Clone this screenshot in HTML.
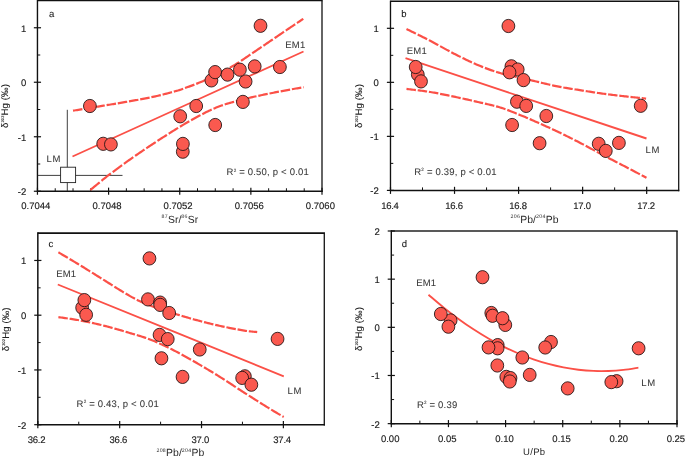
<!DOCTYPE html>
<html><head><meta charset="utf-8"><title>chart</title>
<style>
html,body{margin:0;padding:0;background:#fff;overflow:hidden}
svg{display:block;font-family:"Liberation Sans",sans-serif;text-rendering:geometricPrecision}
</style></head><body>
<svg width="685" height="456" viewBox="0 0 685 456">
<rect width="685" height="456" fill="#fff"/>
<defs><mask id="m" maskUnits="userSpaceOnUse" x="0" y="0" width="685" height="456"><rect width="685" height="456" fill="#fff"/></mask></defs>
<g mask="url(#m)">
<line x1="37.45" y1="0.5" x2="322.65" y2="0.5" stroke="#111" stroke-width="1.3"/>
<line x1="322.0" y1="0.5" x2="322.0" y2="191.975" stroke="#111" stroke-width="1.3"/>
<line x1="37.45" y1="-0.15000000000000002" x2="37.45" y2="191.975" stroke="#111" stroke-width="1.4"/>
<line x1="37.45" y1="191.25" x2="322.65" y2="191.25" stroke="#111" stroke-width="1.45"/>
<line x1="37.45" y1="187.65" x2="37.45" y2="194.75" stroke="#111" stroke-width="1.2"/>
<line x1="108.59" y1="187.65" x2="108.59" y2="194.75" stroke="#111" stroke-width="1.2"/>
<line x1="179.73" y1="187.65" x2="179.73" y2="194.75" stroke="#111" stroke-width="1.2"/>
<line x1="250.86" y1="187.65" x2="250.86" y2="194.75" stroke="#111" stroke-width="1.2"/>
<line x1="322.00" y1="187.65" x2="322.00" y2="194.75" stroke="#111" stroke-width="1.2"/>
<line x1="55.23" y1="188.25" x2="55.23" y2="191.25" stroke="#111" stroke-width="1"/>
<line x1="73.02" y1="188.25" x2="73.02" y2="191.25" stroke="#111" stroke-width="1"/>
<line x1="90.80" y1="188.25" x2="90.80" y2="191.25" stroke="#111" stroke-width="1"/>
<line x1="126.37" y1="188.25" x2="126.37" y2="191.25" stroke="#111" stroke-width="1"/>
<line x1="144.16" y1="188.25" x2="144.16" y2="191.25" stroke="#111" stroke-width="1"/>
<line x1="161.94" y1="188.25" x2="161.94" y2="191.25" stroke="#111" stroke-width="1"/>
<line x1="197.51" y1="188.25" x2="197.51" y2="191.25" stroke="#111" stroke-width="1"/>
<line x1="215.29" y1="188.25" x2="215.29" y2="191.25" stroke="#111" stroke-width="1"/>
<line x1="233.08" y1="188.25" x2="233.08" y2="191.25" stroke="#111" stroke-width="1"/>
<line x1="268.65" y1="188.25" x2="268.65" y2="191.25" stroke="#111" stroke-width="1"/>
<line x1="286.43" y1="188.25" x2="286.43" y2="191.25" stroke="#111" stroke-width="1"/>
<line x1="304.22" y1="188.25" x2="304.22" y2="191.25" stroke="#111" stroke-width="1"/>
<line x1="33.85" y1="27.75" x2="41.050000000000004" y2="27.75" stroke="#111" stroke-width="1.2"/>
<line x1="33.85" y1="82.25" x2="41.050000000000004" y2="82.25" stroke="#111" stroke-width="1.2"/>
<line x1="33.85" y1="136.75" x2="41.050000000000004" y2="136.75" stroke="#111" stroke-width="1.2"/>
<line x1="33.85" y1="191.25" x2="41.050000000000004" y2="191.25" stroke="#111" stroke-width="1.2"/>
<line x1="37.45" y1="55.00" x2="40.25" y2="55.00" stroke="#111" stroke-width="1"/>
<line x1="37.45" y1="109.50" x2="40.25" y2="109.50" stroke="#111" stroke-width="1"/>
<line x1="37.45" y1="164.00" x2="40.25" y2="164.00" stroke="#111" stroke-width="1"/>
<text x="35.85" y="209.10" font-size="9.5" letter-spacing="0" text-anchor="middle" fill="#1c1c1c" stroke="#1c1c1c" stroke-width="0.15" >0.7044</text>
<text x="106.99" y="209.10" font-size="9.5" letter-spacing="0" text-anchor="middle" fill="#1c1c1c" stroke="#1c1c1c" stroke-width="0.15" >0.7048</text>
<text x="178.13" y="209.10" font-size="9.5" letter-spacing="0" text-anchor="middle" fill="#1c1c1c" stroke="#1c1c1c" stroke-width="0.15" >0.7052</text>
<text x="249.26" y="209.10" font-size="9.5" letter-spacing="0" text-anchor="middle" fill="#1c1c1c" stroke="#1c1c1c" stroke-width="0.15" >0.7056</text>
<text x="320.40" y="209.10" font-size="9.5" letter-spacing="0" text-anchor="middle" fill="#1c1c1c" stroke="#1c1c1c" stroke-width="0.15" >0.7060</text>
<text x="26.20" y="31.75" font-size="9.5" letter-spacing="0" text-anchor="end" fill="#1c1c1c" stroke="#1c1c1c" stroke-width="0.15" >1</text>
<text x="26.20" y="86.25" font-size="9.5" letter-spacing="0" text-anchor="end" fill="#1c1c1c" stroke="#1c1c1c" stroke-width="0.15" >0</text>
<text x="26.20" y="140.75" font-size="9.5" letter-spacing="0" text-anchor="end" fill="#1c1c1c" stroke="#1c1c1c" stroke-width="0.15" >-1</text>
<text x="26.20" y="195.25" font-size="9.5" letter-spacing="0" text-anchor="end" fill="#1c1c1c" stroke="#1c1c1c" stroke-width="0.15" >-2</text>
<text transform="translate(8.4,106) rotate(-90)" font-size="9.5" text-anchor="middle" fill="#222" stroke="#222" stroke-width="0.1"><tspan letter-spacing="0.15">δ</tspan><tspan font-size="3.9" letter-spacing="0.15" dy="-4.2">202</tspan><tspan dy="4.2" letter-spacing="0.15">Hg (‰)</tspan></text>
<line x1="67.3" y1="109.8" x2="67.3" y2="191" stroke="#2a2a2a" stroke-width="0.9"/>
<line x1="37.8" y1="175.4" x2="122.5" y2="175.4" stroke="#2a2a2a" stroke-width="0.9"/>
<rect x="60.6" y="167.2" width="15.0" height="15.4" fill="#fff" stroke="#222" stroke-width="0.9"/>
<path d="M72.50,156.50 C111.00,139.00 265.00,69.00 303.50,51.50" fill="none" stroke="#fb5047" stroke-width="1.85"/>
<path d="M73.00,110.70 L74.34,110.48 L75.69,110.26 L77.03,110.04 L78.37,109.82 L79.71,109.60 L81.06,109.38 L82.40,109.16 M84.20,108.86 L85.54,108.64 L86.89,108.42 L88.23,108.20 L89.57,107.98 L90.91,107.76 L92.26,107.53 L93.60,107.31 M95.40,107.02 L96.74,106.79 L98.09,106.57 L99.43,106.35 L100.77,106.13 L102.11,105.91 L103.46,105.69 L104.80,105.47 M106.60,105.18 L107.94,104.96 L109.29,104.74 L110.63,104.52 L111.97,104.29 L113.31,104.07 L114.66,103.85 L116.00,103.63 M117.80,103.33 L119.14,103.10 L120.49,102.87 L121.83,102.65 L123.17,102.41 L124.51,102.18 L125.86,101.95 L127.20,101.71 M129.00,101.39 L130.34,101.16 L131.69,100.92 L133.03,100.68 L134.37,100.44 L135.71,100.20 L137.06,99.96 L138.40,99.71 M140.20,99.38 L141.54,99.13 L142.89,98.88 L144.23,98.63 L145.57,98.37 L146.91,98.11 L148.26,97.84 L149.60,97.57 M151.40,97.20 L152.74,96.92 L154.09,96.63 L155.43,96.33 L156.77,96.02 L158.11,95.71 L159.46,95.39 L160.80,95.06 M162.60,94.61 L163.94,94.27 L165.29,93.93 L166.63,93.58 L167.97,93.22 L169.31,92.87 L170.66,92.51 L172.00,92.14 M173.80,91.65 L175.14,91.29 L176.49,90.93 L177.83,90.56 L179.17,90.14 L180.51,89.68 L181.86,89.20 L183.20,88.71 M185.00,88.05 L186.34,87.57 L187.69,87.08 L189.03,86.60 L190.37,86.11 L191.71,85.61 L193.06,85.11 L194.40,84.60 M196.20,83.90 L197.54,83.38 L198.89,82.84 L200.23,82.28 L201.57,81.72 L202.91,81.14 L204.26,80.55 L205.60,79.95 M207.40,79.13 L208.74,78.51 L210.09,77.88 L211.43,77.25 L212.77,76.62 L214.11,75.97 L215.46,75.32 L216.80,74.67 M218.60,73.78 L219.94,73.10 L221.29,72.42 L222.63,71.72 L223.97,71.02 L225.31,70.31 L226.66,69.59 L228.00,68.85 M229.80,67.84 L231.14,67.07 L232.49,66.28 L233.83,65.47 L235.17,64.64 L236.51,63.80 L237.86,62.93 L239.20,62.06 M241.00,60.87 L242.34,59.97 L243.69,59.06 L245.03,58.15 L246.37,57.24 L247.71,56.32 L249.06,55.40 L250.40,54.49 M252.20,53.27 L253.54,52.37 L254.89,51.48 L256.23,50.58 L257.57,49.68 L258.91,48.77 L260.26,47.87 L261.60,46.96 M263.40,45.74 L264.74,44.83 L266.09,43.91 L267.43,43.00 L268.77,42.09 L270.11,41.17 L271.46,40.26 L272.80,39.35 M274.60,38.13 L275.94,37.22 L277.29,36.31 L278.63,35.40 L279.97,34.50 L281.31,33.59 L282.66,32.69 L284.00,31.78 M285.80,30.57 L287.14,29.67 L288.49,28.77 L289.83,27.86 L291.17,26.96 L292.51,26.05 L293.86,25.15 L295.20,24.25 M297.00,23.04 L297.90,22.43 L298.80,21.83 L299.70,21.22 L300.60,20.62 L301.50,20.01 L302.40,19.41 L303.30,18.80" fill="none" stroke="#fb5047" stroke-width="2.2"/>
<path d="M90.30,190.00 L91.64,188.91 L92.99,187.80 L94.33,186.69 L95.67,185.59 L97.01,184.48 L98.36,183.38 L99.70,182.28 M101.50,180.81 L102.84,179.73 L104.19,178.65 L105.53,177.57 L106.87,176.51 L108.21,175.46 L109.56,174.42 L110.90,173.38 M112.70,172.03 L114.04,171.02 L115.39,170.03 L116.73,169.03 L118.07,168.05 L119.41,167.07 L120.76,166.10 L122.10,165.13 M123.90,163.83 L125.24,162.87 L126.59,161.92 L127.93,160.97 L129.27,160.02 L130.61,159.08 L131.96,158.14 L133.30,157.20 M135.10,155.95 L136.44,155.02 L137.79,154.10 L139.13,153.18 L140.47,152.26 L141.81,151.35 L143.16,150.44 L144.50,149.53 M146.30,148.32 L147.64,147.42 L148.99,146.53 L150.33,145.63 L151.67,144.74 L153.01,143.86 L154.36,142.97 L155.70,142.09 M157.50,140.91 L158.84,140.04 L160.19,139.16 L161.53,138.29 L162.87,137.43 L164.21,136.56 L165.56,135.70 L166.90,134.85 M168.70,133.70 L170.04,132.85 L171.39,132.01 L172.73,131.17 L174.07,130.33 L175.41,129.50 L176.76,128.68 L178.10,127.85 M179.90,126.76 L181.24,125.95 L182.59,125.15 L183.93,124.35 L185.27,123.56 L186.61,122.77 L187.96,122.00 L189.30,121.23 M191.10,120.21 L192.44,119.46 L193.79,118.71 L195.13,117.98 L196.47,117.25 L197.81,116.53 L199.16,115.82 L200.50,115.11 M202.30,114.16 L203.64,113.46 L204.99,112.78 L206.33,112.10 L207.67,111.44 L209.01,110.79 L210.36,110.15 L211.70,109.53 M213.50,108.73 L214.84,108.16 L216.19,107.60 L217.53,107.06 L218.87,106.54 L220.21,106.03 L221.56,105.55 L222.90,105.09 M224.70,104.49 L226.04,104.07 L227.39,103.65 L228.73,103.25 L230.07,102.85 L231.41,102.47 L232.76,102.09 L234.10,101.72 M235.90,101.24 L237.24,100.88 L238.59,100.52 L239.93,100.17 L241.27,99.82 L242.61,99.47 L243.96,99.12 L245.30,98.78 M247.10,98.35 L248.44,98.03 L249.79,97.71 L251.13,97.40 L252.47,97.10 L253.81,96.80 L255.16,96.51 L256.50,96.22 M258.30,95.83 L259.64,95.55 L260.99,95.26 L262.33,94.98 L263.67,94.70 L265.01,94.42 L266.36,94.14 L267.70,93.87 M269.50,93.50 L270.84,93.24 L272.19,92.97 L273.53,92.71 L274.87,92.45 L276.21,92.19 L277.56,91.94 L278.90,91.68 M280.70,91.35 L282.04,91.09 L283.39,90.84 L284.73,90.59 L286.07,90.35 L287.41,90.10 L288.76,89.85 L290.10,89.60 M291.90,89.27 L293.24,89.02 L294.59,88.78 L295.93,88.54 L297.27,88.31 L298.61,88.07 L299.96,87.84 L301.30,87.60 M303.10,87.29 L303.17,87.28 L303.24,87.26 L303.31,87.25 L303.39,87.24 L303.46,87.23 L303.53,87.21 L303.60,87.20" fill="none" stroke="#fb5047" stroke-width="2.2"/>
<ellipse cx="89.90" cy="106.00" rx="6.4" ry="6.62" fill="#fa594f" stroke="#1c1010" stroke-width="0.85"/>
<ellipse cx="103.20" cy="143.80" rx="6.4" ry="6.62" fill="#fa594f" stroke="#1c1010" stroke-width="0.85"/>
<ellipse cx="110.90" cy="144.40" rx="6.4" ry="6.62" fill="#fa594f" stroke="#1c1010" stroke-width="0.85"/>
<ellipse cx="180.20" cy="116.30" rx="6.4" ry="6.62" fill="#fa594f" stroke="#1c1010" stroke-width="0.85"/>
<ellipse cx="182.80" cy="151.70" rx="6.4" ry="6.62" fill="#fa594f" stroke="#1c1010" stroke-width="0.85"/>
<ellipse cx="182.90" cy="143.90" rx="6.4" ry="6.62" fill="#fa594f" stroke="#1c1010" stroke-width="0.85"/>
<ellipse cx="196.20" cy="106.00" rx="6.4" ry="6.62" fill="#fa594f" stroke="#1c1010" stroke-width="0.85"/>
<ellipse cx="211.40" cy="80.40" rx="6.4" ry="6.62" fill="#fa594f" stroke="#1c1010" stroke-width="0.85"/>
<ellipse cx="215.20" cy="125.00" rx="6.4" ry="6.62" fill="#fa594f" stroke="#1c1010" stroke-width="0.85"/>
<ellipse cx="215.10" cy="72.10" rx="6.4" ry="6.62" fill="#fa594f" stroke="#1c1010" stroke-width="0.85"/>
<ellipse cx="227.50" cy="74.60" rx="6.4" ry="6.62" fill="#fa594f" stroke="#1c1010" stroke-width="0.85"/>
<ellipse cx="245.60" cy="81.50" rx="6.4" ry="6.62" fill="#fa594f" stroke="#1c1010" stroke-width="0.85"/>
<ellipse cx="239.90" cy="69.70" rx="6.4" ry="6.62" fill="#fa594f" stroke="#1c1010" stroke-width="0.85"/>
<ellipse cx="242.90" cy="101.90" rx="6.4" ry="6.62" fill="#fa594f" stroke="#1c1010" stroke-width="0.85"/>
<ellipse cx="254.70" cy="66.40" rx="6.4" ry="6.62" fill="#fa594f" stroke="#1c1010" stroke-width="0.85"/>
<ellipse cx="260.50" cy="25.80" rx="6.4" ry="6.62" fill="#fa594f" stroke="#1c1010" stroke-width="0.85"/>
<ellipse cx="279.90" cy="67.00" rx="6.4" ry="6.62" fill="#fa594f" stroke="#1c1010" stroke-width="0.85"/>
<text x="49.00" y="16.60" font-size="9.5" letter-spacing="0.2" text-anchor="start" fill="#151515" stroke="#151515" stroke-width="0.08" >a</text>
<text x="285.30" y="47.50" font-size="9.5" letter-spacing="0.2" text-anchor="start" fill="#3a3a3a" stroke="#3a3a3a" stroke-width="0.08" >EM1</text>
<text x="46.60" y="161.50" font-size="9.5" letter-spacing="0.7" text-anchor="start" fill="#3a3a3a" stroke="#3a3a3a" stroke-width="0.08" >LM</text>
<text x="226.60" y="175.10" font-size="9.5" letter-spacing="0.2" text-anchor="start" fill="#3a3a3a" stroke="#3a3a3a" stroke-width="0.08" >R<tspan font-size="4.5" dy="-3.6">2</tspan><tspan dy="3.6" font-size="4.5">&#8203;</tspan> = 0.50, p &lt; 0.01</text>
<text x="179.9" y="222.8" font-size="10.4" text-anchor="middle" fill="#2a2a2a"><tspan font-size="5.2" letter-spacing="0.35" dy="-4.8">87</tspan><tspan dy="4.8" letter-spacing="0.05">Sr/</tspan><tspan font-size="5.2" letter-spacing="0.35" dy="-4.8">86</tspan><tspan dy="4.8" letter-spacing="0.05">Sr</tspan></text>
<line x1="390.48" y1="1.3" x2="679.325" y2="1.3" stroke="#111" stroke-width="1.4"/>
<line x1="678.7" y1="1.3" x2="678.7" y2="191.125" stroke="#111" stroke-width="1.25"/>
<line x1="390.48" y1="0.6000000000000001" x2="390.48" y2="191.125" stroke="#111" stroke-width="1.35"/>
<line x1="390.48" y1="190.4" x2="679.325" y2="190.4" stroke="#111" stroke-width="1.45"/>
<line x1="390.48" y1="186.8" x2="390.48" y2="193.9" stroke="#111" stroke-width="1.2"/>
<line x1="454.53" y1="186.8" x2="454.53" y2="193.9" stroke="#111" stroke-width="1.2"/>
<line x1="518.58" y1="186.8" x2="518.58" y2="193.9" stroke="#111" stroke-width="1.2"/>
<line x1="582.63" y1="186.8" x2="582.63" y2="193.9" stroke="#111" stroke-width="1.2"/>
<line x1="646.68" y1="186.8" x2="646.68" y2="193.9" stroke="#111" stroke-width="1.2"/>
<line x1="422.50" y1="187.4" x2="422.50" y2="190.4" stroke="#111" stroke-width="1"/>
<line x1="486.55" y1="187.4" x2="486.55" y2="190.4" stroke="#111" stroke-width="1"/>
<line x1="550.60" y1="187.4" x2="550.60" y2="190.4" stroke="#111" stroke-width="1"/>
<line x1="614.65" y1="187.4" x2="614.65" y2="190.4" stroke="#111" stroke-width="1"/>
<line x1="386.88" y1="28.31" x2="394.08000000000004" y2="28.31" stroke="#111" stroke-width="1.2"/>
<line x1="386.88" y1="82.34" x2="394.08000000000004" y2="82.34" stroke="#111" stroke-width="1.2"/>
<line x1="386.88" y1="136.37" x2="394.08000000000004" y2="136.37" stroke="#111" stroke-width="1.2"/>
<line x1="386.88" y1="190.40" x2="394.08000000000004" y2="190.40" stroke="#111" stroke-width="1.2"/>
<line x1="390.48" y1="55.33" x2="393.28000000000003" y2="55.33" stroke="#111" stroke-width="1"/>
<line x1="390.48" y1="109.36" x2="393.28000000000003" y2="109.36" stroke="#111" stroke-width="1"/>
<line x1="390.48" y1="163.38" x2="393.28000000000003" y2="163.38" stroke="#111" stroke-width="1"/>
<text x="389.88" y="209.00" font-size="9.5" letter-spacing="-0.25" text-anchor="middle" fill="#1c1c1c" stroke="#1c1c1c" stroke-width="0.15" >16.4</text>
<text x="453.93" y="209.00" font-size="9.5" letter-spacing="-0.25" text-anchor="middle" fill="#1c1c1c" stroke="#1c1c1c" stroke-width="0.15" >16.6</text>
<text x="517.98" y="209.00" font-size="9.5" letter-spacing="-0.25" text-anchor="middle" fill="#1c1c1c" stroke="#1c1c1c" stroke-width="0.15" >16.8</text>
<text x="582.03" y="209.00" font-size="9.5" letter-spacing="-0.25" text-anchor="middle" fill="#1c1c1c" stroke="#1c1c1c" stroke-width="0.15" >17.0</text>
<text x="646.08" y="209.00" font-size="9.5" letter-spacing="-0.25" text-anchor="middle" fill="#1c1c1c" stroke="#1c1c1c" stroke-width="0.15" >17.2</text>
<text x="378.80" y="32.11" font-size="9.5" letter-spacing="0" text-anchor="end" fill="#1c1c1c" stroke="#1c1c1c" stroke-width="0.15" >1</text>
<text x="378.80" y="86.14" font-size="9.5" letter-spacing="0" text-anchor="end" fill="#1c1c1c" stroke="#1c1c1c" stroke-width="0.15" >0</text>
<text x="378.80" y="140.17" font-size="9.5" letter-spacing="0" text-anchor="end" fill="#1c1c1c" stroke="#1c1c1c" stroke-width="0.15" >-1</text>
<text x="378.80" y="194.20" font-size="9.5" letter-spacing="0" text-anchor="end" fill="#1c1c1c" stroke="#1c1c1c" stroke-width="0.15" >-2</text>
<text transform="translate(362,106) rotate(-90)" font-size="9.5" text-anchor="middle" fill="#222" stroke="#222" stroke-width="0.1"><tspan letter-spacing="0.15">δ</tspan><tspan font-size="3.9" letter-spacing="0.15" dy="-4.2">202</tspan><tspan dy="4.2" letter-spacing="0.15">Hg (‰)</tspan></text>
<path d="M405.50,58.20 C445.67,71.58 606.33,125.12 646.50,138.50" fill="none" stroke="#fb5047" stroke-width="1.85"/>
<path d="M406.50,29.00 L407.84,29.66 L409.19,30.32 L410.53,30.98 L411.87,31.64 L413.21,32.30 L414.56,32.96 L415.90,33.62 M417.70,34.51 L419.04,35.17 L420.39,35.84 L421.73,36.51 L423.07,37.18 L424.41,37.85 L425.76,38.53 L427.10,39.21 M428.90,40.13 L430.24,40.82 L431.59,41.53 L432.93,42.24 L434.27,42.96 L435.61,43.69 L436.96,44.42 L438.30,45.16 M440.10,46.15 L441.44,46.90 L442.79,47.64 L444.13,48.38 L445.47,49.12 L446.81,49.85 L448.16,50.58 L449.50,51.30 M451.30,52.26 L452.64,52.96 L453.99,53.65 L455.33,54.33 L456.67,55.01 L458.01,55.69 L459.36,56.37 L460.70,57.04 M462.50,57.94 L463.84,58.60 L465.19,59.26 L466.53,59.91 L467.87,60.55 L469.21,61.18 L470.56,61.81 L471.90,62.42 M473.70,63.23 L475.04,63.82 L476.39,64.40 L477.73,64.96 L479.07,65.52 L480.41,66.08 L481.76,66.62 L483.10,67.16 M484.90,67.87 L486.24,68.39 L487.59,68.90 L488.93,69.39 L490.27,69.87 L491.61,70.35 L492.96,70.81 L494.30,71.26 M496.10,71.84 L497.44,72.26 L498.79,72.66 L500.13,73.06 L501.47,73.45 L502.81,73.82 L504.16,74.17 L505.50,74.52 M507.30,74.96 L508.64,75.28 L509.99,75.59 L511.33,75.90 L512.67,76.20 L514.01,76.50 L515.36,76.80 L516.70,77.09 M518.50,77.48 L519.84,77.76 L521.19,78.05 L522.53,78.34 L523.87,78.63 L525.21,78.92 L526.56,79.22 L527.90,79.52 M529.70,79.93 L531.04,80.24 L532.39,80.56 L533.73,80.88 L535.07,81.20 L536.41,81.53 L537.76,81.86 L539.10,82.18 M540.90,82.62 L542.24,82.95 L543.59,83.27 L544.93,83.60 L546.27,83.92 L547.61,84.24 L548.96,84.55 L550.30,84.87 M552.10,85.27 L553.44,85.57 L554.79,85.86 L556.13,86.14 L557.47,86.41 L558.81,86.68 L560.16,86.93 L561.50,87.18 M563.30,87.50 L564.64,87.73 L565.99,87.95 L567.33,88.17 L568.67,88.39 L570.01,88.60 L571.36,88.81 L572.70,89.01 M574.50,89.29 L575.84,89.49 L577.19,89.70 L578.53,89.90 L579.87,90.12 L581.21,90.33 L582.56,90.55 L583.90,90.76 M585.70,91.05 L587.04,91.27 L588.39,91.48 L589.73,91.69 L591.07,91.91 L592.41,92.12 L593.76,92.33 L595.10,92.53 M596.90,92.81 L598.24,93.01 L599.59,93.20 L600.93,93.40 L602.27,93.59 L603.61,93.77 L604.96,93.96 L606.30,94.13 M608.10,94.36 L609.44,94.53 L610.79,94.70 L612.13,94.86 L613.47,95.02 L614.81,95.18 L616.16,95.34 L617.50,95.49 M619.30,95.70 L620.64,95.85 L621.99,96.00 L623.33,96.15 L624.67,96.30 L626.01,96.45 L627.36,96.61 L628.70,96.76 M630.50,96.96 L631.84,97.10 L633.19,97.25 L634.53,97.39 L635.87,97.53 L637.21,97.67 L638.56,97.82 L639.90,97.96 M641.70,98.14 L642.33,98.21 L642.96,98.27 L643.59,98.34 L644.21,98.40 L644.84,98.47 L645.47,98.53 L646.10,98.60" fill="none" stroke="#fb5047" stroke-width="2.2"/>
<path d="M406.50,88.90 L407.84,89.07 L409.19,89.23 L410.53,89.39 L411.87,89.55 L413.21,89.72 L414.56,89.88 L415.90,90.04 M417.70,90.26 L419.04,90.43 L420.39,90.60 L421.73,90.78 L423.07,90.96 L424.41,91.14 L425.76,91.33 L427.10,91.52 M428.90,91.79 L430.24,92.01 L431.59,92.23 L432.93,92.46 L434.27,92.70 L435.61,92.94 L436.96,93.19 L438.30,93.45 M440.10,93.80 L441.44,94.06 L442.79,94.33 L444.13,94.61 L445.47,94.88 L446.81,95.16 L448.16,95.44 L449.50,95.72 M451.30,96.10 L452.64,96.38 L453.99,96.66 L455.33,96.94 L456.67,97.23 L458.01,97.51 L459.36,97.80 L460.70,98.09 M462.50,98.48 L463.84,98.78 L465.19,99.08 L466.53,99.38 L467.87,99.68 L469.21,99.98 L470.56,100.29 L471.90,100.59 M473.70,101.01 L475.04,101.32 L476.39,101.63 L477.73,101.95 L479.07,102.26 L480.41,102.57 L481.76,102.87 L483.10,103.18 M484.90,103.59 L486.24,103.90 L487.59,104.22 L488.93,104.53 L490.27,104.85 L491.61,105.18 L492.96,105.51 L494.30,105.85 M496.10,106.32 L497.44,106.68 L498.79,107.06 L500.13,107.46 L501.47,107.87 L502.81,108.31 L504.16,108.76 L505.50,109.23 M507.30,109.89 L508.64,110.40 L509.99,110.92 L511.33,111.46 L512.67,112.00 L514.01,112.55 L515.36,113.10 L516.70,113.65 M518.50,114.38 L519.84,114.92 L521.19,115.45 L522.53,116.00 L523.87,116.55 L525.21,117.11 L526.56,117.67 L527.90,118.25 M529.70,119.03 L531.04,119.62 L532.39,120.21 L533.73,120.80 L535.07,121.39 L536.41,121.99 L537.76,122.58 L539.10,123.18 M540.90,123.98 L542.24,124.58 L543.59,125.18 L544.93,125.78 L546.27,126.39 L547.61,127.00 L548.96,127.61 L550.30,128.22 M552.10,129.05 L553.44,129.67 L554.79,130.30 L556.13,130.93 L557.47,131.57 L558.81,132.21 L560.16,132.86 L561.50,133.51 M563.30,134.39 L564.64,135.05 L565.99,135.71 L567.33,136.37 L568.67,137.04 L570.01,137.71 L571.36,138.39 L572.70,139.07 M574.50,139.98 L575.84,140.66 L577.19,141.35 L578.53,142.04 L579.87,142.73 L581.21,143.42 L582.56,144.12 L583.90,144.83 M585.70,145.78 L587.04,146.50 L588.39,147.22 L589.73,147.94 L591.07,148.66 L592.41,149.39 L593.76,150.12 L595.10,150.84 M596.90,151.81 L598.24,152.54 L599.59,153.26 L600.93,153.98 L602.27,154.69 L603.61,155.40 L604.96,156.11 L606.30,156.81 M608.10,157.75 L609.44,158.45 L610.79,159.15 L612.13,159.84 L613.47,160.54 L614.81,161.23 L616.16,161.93 L617.50,162.62 M619.30,163.55 L620.64,164.25 L621.99,164.94 L623.33,165.63 L624.67,166.33 L626.01,167.03 L627.36,167.73 L628.70,168.43 M630.50,169.37 L631.84,170.08 L633.19,170.78 L634.53,171.49 L635.87,172.20 L637.21,172.90 L638.56,173.61 L639.90,174.32 M641.70,175.27 L642.39,175.63 L643.07,175.99 L643.76,176.35 L644.44,176.72 L645.13,177.08 L645.81,177.44 L646.50,177.80" fill="none" stroke="#fb5047" stroke-width="2.2"/>
<ellipse cx="508.40" cy="26.00" rx="6.4" ry="6.62" fill="#fa594f" stroke="#1c1010" stroke-width="0.85"/>
<ellipse cx="417.80" cy="74.50" rx="6.4" ry="6.62" fill="#fa594f" stroke="#1c1010" stroke-width="0.85"/>
<ellipse cx="415.70" cy="67.00" rx="6.4" ry="6.62" fill="#fa594f" stroke="#1c1010" stroke-width="0.85"/>
<ellipse cx="421.00" cy="81.40" rx="6.4" ry="6.62" fill="#fa594f" stroke="#1c1010" stroke-width="0.85"/>
<ellipse cx="511.40" cy="66.30" rx="6.4" ry="6.62" fill="#fa594f" stroke="#1c1010" stroke-width="0.85"/>
<ellipse cx="517.70" cy="69.50" rx="6.4" ry="6.62" fill="#fa594f" stroke="#1c1010" stroke-width="0.85"/>
<ellipse cx="509.50" cy="72.30" rx="6.4" ry="6.62" fill="#fa594f" stroke="#1c1010" stroke-width="0.85"/>
<ellipse cx="523.50" cy="80.10" rx="6.4" ry="6.62" fill="#fa594f" stroke="#1c1010" stroke-width="0.85"/>
<ellipse cx="516.90" cy="101.70" rx="6.4" ry="6.62" fill="#fa594f" stroke="#1c1010" stroke-width="0.85"/>
<ellipse cx="526.20" cy="105.90" rx="6.4" ry="6.62" fill="#fa594f" stroke="#1c1010" stroke-width="0.85"/>
<ellipse cx="546.30" cy="116.00" rx="6.4" ry="6.62" fill="#fa594f" stroke="#1c1010" stroke-width="0.85"/>
<ellipse cx="512.10" cy="125.00" rx="6.4" ry="6.62" fill="#fa594f" stroke="#1c1010" stroke-width="0.85"/>
<ellipse cx="539.60" cy="143.20" rx="6.4" ry="6.62" fill="#fa594f" stroke="#1c1010" stroke-width="0.85"/>
<ellipse cx="598.70" cy="143.80" rx="6.4" ry="6.62" fill="#fa594f" stroke="#1c1010" stroke-width="0.85"/>
<ellipse cx="605.80" cy="150.90" rx="6.4" ry="6.62" fill="#fa594f" stroke="#1c1010" stroke-width="0.85"/>
<ellipse cx="618.90" cy="142.90" rx="6.4" ry="6.62" fill="#fa594f" stroke="#1c1010" stroke-width="0.85"/>
<ellipse cx="640.70" cy="105.80" rx="6.4" ry="6.62" fill="#fa594f" stroke="#1c1010" stroke-width="0.85"/>
<text x="401.20" y="16.50" font-size="9.5" letter-spacing="0.2" text-anchor="start" fill="#151515" stroke="#151515" stroke-width="0.08" >b</text>
<text x="406.80" y="53.50" font-size="9.5" letter-spacing="0.2" text-anchor="start" fill="#3a3a3a" stroke="#3a3a3a" stroke-width="0.08" >EM1</text>
<text x="645.60" y="152.60" font-size="9.5" letter-spacing="0.7" text-anchor="start" fill="#3a3a3a" stroke="#3a3a3a" stroke-width="0.08" >LM</text>
<text x="414.30" y="175.00" font-size="9.5" letter-spacing="0.2" text-anchor="start" fill="#3a3a3a" stroke="#3a3a3a" stroke-width="0.08" >R<tspan font-size="4.5" dy="-3.6">2</tspan><tspan dy="3.6" font-size="4.5">&#8203;</tspan> = 0.39, p &lt; 0.01</text>
<text x="534.5" y="222.6" font-size="10.4" text-anchor="middle" fill="#2a2a2a"><tspan font-size="5.2" letter-spacing="0.35" dy="-4.8">206</tspan><tspan dy="4.8" letter-spacing="0.05">Pb/</tspan><tspan font-size="5.2" letter-spacing="0.35" dy="-4.8">204</tspan><tspan dy="4.8" letter-spacing="0.05">Pb</tspan></text>
<line x1="37.83" y1="233.1" x2="324.975" y2="233.1" stroke="#111" stroke-width="1.55"/>
<line x1="324.3" y1="233.1" x2="324.3" y2="425.5" stroke="#1a1a1a" stroke-width="1.35"/>
<line x1="37.83" y1="232.325" x2="37.83" y2="425.5" stroke="#111" stroke-width="1.5"/>
<line x1="37.83" y1="424.7" x2="324.975" y2="424.7" stroke="#111" stroke-width="1.6"/>
<line x1="37.83" y1="421.09999999999997" x2="37.83" y2="428.2" stroke="#111" stroke-width="1.2"/>
<line x1="119.68" y1="421.09999999999997" x2="119.68" y2="428.2" stroke="#111" stroke-width="1.2"/>
<line x1="201.53" y1="421.09999999999997" x2="201.53" y2="428.2" stroke="#111" stroke-width="1.2"/>
<line x1="283.38" y1="421.09999999999997" x2="283.38" y2="428.2" stroke="#111" stroke-width="1.2"/>
<line x1="78.75" y1="421.7" x2="78.75" y2="424.7" stroke="#111" stroke-width="1"/>
<line x1="160.60" y1="421.7" x2="160.60" y2="424.7" stroke="#111" stroke-width="1"/>
<line x1="242.45" y1="421.7" x2="242.45" y2="424.7" stroke="#111" stroke-width="1"/>
<line x1="34.23" y1="260.46" x2="41.43" y2="260.46" stroke="#111" stroke-width="1.2"/>
<line x1="34.23" y1="315.20" x2="41.43" y2="315.20" stroke="#111" stroke-width="1.2"/>
<line x1="34.23" y1="369.94" x2="41.43" y2="369.94" stroke="#111" stroke-width="1.2"/>
<line x1="34.23" y1="424.68" x2="41.43" y2="424.68" stroke="#111" stroke-width="1.2"/>
<line x1="37.83" y1="287.83" x2="40.629999999999995" y2="287.83" stroke="#111" stroke-width="1"/>
<line x1="37.83" y1="342.57" x2="40.629999999999995" y2="342.57" stroke="#111" stroke-width="1"/>
<line x1="37.83" y1="397.31" x2="40.629999999999995" y2="397.31" stroke="#111" stroke-width="1"/>
<text x="36.53" y="443.00" font-size="9.5" letter-spacing="-0.2" text-anchor="middle" fill="#1c1c1c" stroke="#1c1c1c" stroke-width="0.15" >36.2</text>
<text x="118.38" y="443.00" font-size="9.5" letter-spacing="-0.2" text-anchor="middle" fill="#1c1c1c" stroke="#1c1c1c" stroke-width="0.15" >36.6</text>
<text x="200.23" y="443.00" font-size="9.5" letter-spacing="-0.2" text-anchor="middle" fill="#1c1c1c" stroke="#1c1c1c" stroke-width="0.15" >37.0</text>
<text x="282.08" y="443.00" font-size="9.5" letter-spacing="-0.2" text-anchor="middle" fill="#1c1c1c" stroke="#1c1c1c" stroke-width="0.15" >37.4</text>
<text x="26.30" y="264.36" font-size="9.5" letter-spacing="0" text-anchor="end" fill="#1c1c1c" stroke="#1c1c1c" stroke-width="0.15" >1</text>
<text x="26.30" y="319.10" font-size="9.5" letter-spacing="0" text-anchor="end" fill="#1c1c1c" stroke="#1c1c1c" stroke-width="0.15" >0</text>
<text x="26.30" y="373.84" font-size="9.5" letter-spacing="0" text-anchor="end" fill="#1c1c1c" stroke="#1c1c1c" stroke-width="0.15" >-1</text>
<text x="26.30" y="428.58" font-size="9.5" letter-spacing="0" text-anchor="end" fill="#1c1c1c" stroke="#1c1c1c" stroke-width="0.15" >-2</text>
<text transform="translate(8.75,329.3) rotate(-90)" font-size="9.5" text-anchor="middle" fill="#222" stroke="#222" stroke-width="0.1"><tspan letter-spacing="0.15">δ</tspan><tspan font-size="3.9" letter-spacing="0.15" dy="-4.2">202</tspan><tspan dy="4.2" letter-spacing="0.15">Hg (‰)</tspan></text>
<path d="M57.80,284.50 C95.47,299.80 246.13,361.00 283.80,376.30" fill="none" stroke="#fb5047" stroke-width="1.85"/>
<path d="M58.40,252.30 L59.74,253.10 L61.09,253.89 L62.43,254.69 L63.77,255.48 L65.11,256.28 L66.46,257.07 L67.80,257.87 M69.60,258.94 L70.94,259.74 L72.29,260.54 L73.63,261.34 L74.97,262.14 L76.31,262.95 L77.66,263.76 L79.00,264.57 M80.80,265.67 L82.14,266.49 L83.49,267.31 L84.83,268.14 L86.17,268.97 L87.51,269.81 L88.86,270.64 L90.20,271.48 M92.00,272.60 L93.34,273.44 L94.69,274.28 L96.03,275.12 L97.37,275.96 L98.71,276.80 L100.06,277.63 L101.40,278.47 M103.20,279.59 L104.54,280.42 L105.89,281.26 L107.23,282.10 L108.57,282.95 L109.91,283.79 L111.26,284.64 L112.60,285.49 M114.40,286.62 L115.74,287.47 L117.09,288.31 L118.43,289.15 L119.77,289.98 L121.11,290.81 L122.46,291.63 L123.80,292.45 M125.60,293.52 L126.94,294.31 L128.29,295.08 L129.63,295.85 L130.97,296.60 L132.31,297.35 L133.66,298.08 L135.00,298.79 M136.80,299.72 L138.14,300.40 L139.49,301.05 L140.83,301.69 L142.17,302.30 L143.51,302.91 L144.86,303.49 L146.20,304.05 M148.00,304.76 L149.34,305.27 L150.69,305.77 L152.03,306.25 L153.37,306.72 L154.71,307.19 L156.06,307.65 L157.40,308.11 M159.20,308.72 L160.54,309.19 L161.89,309.65 L163.23,310.10 L164.57,310.55 L165.91,310.99 L167.26,311.42 L168.60,311.85 M170.40,312.42 L171.74,312.83 L173.09,313.25 L174.43,313.66 L175.77,314.07 L177.11,314.48 L178.46,314.88 L179.80,315.29 M181.60,315.83 L182.94,316.23 L184.29,316.63 L185.63,317.03 L186.97,317.42 L188.31,317.81 L189.66,318.19 L191.00,318.58 M192.80,319.08 L194.14,319.45 L195.49,319.82 L196.83,320.18 L198.17,320.54 L199.51,320.89 L200.86,321.25 L202.20,321.60 M204.00,322.06 L205.34,322.40 L206.69,322.74 L208.03,323.08 L209.37,323.41 L210.71,323.74 L212.06,324.07 L213.40,324.39 M215.20,324.82 L216.54,325.13 L217.89,325.44 L219.23,325.74 L220.57,326.04 L221.91,326.33 L223.26,326.61 L224.60,326.90 M226.40,327.27 L227.74,327.54 L229.09,327.80 L230.43,328.07 L231.77,328.33 L233.11,328.59 L234.46,328.84 L235.80,329.09 M237.60,329.42 L238.94,329.66 L240.29,329.90 L241.63,330.13 L242.97,330.36 L244.31,330.58 L245.66,330.79 L247.00,330.98 M248.80,331.22 L250.00,331.37 L251.20,331.50 L252.40,331.63 L253.60,331.75 L254.80,331.86 L256.00,331.97 L257.20,332.10" fill="none" stroke="#fb5047" stroke-width="2.2"/>
<path d="M58.40,317.10 L59.74,317.30 L61.09,317.50 L62.43,317.69 L63.77,317.89 L65.11,318.08 L66.46,318.28 L67.80,318.48 M69.60,318.75 L70.94,318.95 L72.29,319.16 L73.63,319.37 L74.97,319.59 L76.31,319.81 L77.66,320.04 L79.00,320.28 M80.80,320.61 L82.14,320.87 L83.49,321.13 L84.83,321.39 L86.17,321.66 L87.51,321.94 L88.86,322.21 L90.20,322.50 M92.00,322.88 L93.34,323.18 L94.69,323.47 L96.03,323.78 L97.37,324.08 L98.71,324.39 L100.06,324.71 L101.40,325.03 M103.20,325.48 L104.54,325.81 L105.89,326.15 L107.23,326.50 L108.57,326.86 L109.91,327.22 L111.26,327.59 L112.60,327.96 M114.40,328.47 L115.74,328.85 L117.09,329.24 L118.43,329.63 L119.77,330.02 L121.11,330.42 L122.46,330.81 L123.80,331.21 M125.60,331.75 L126.94,332.15 L128.29,332.55 L129.63,332.95 L130.97,333.34 L132.31,333.74 L133.66,334.13 L135.00,334.52 M136.80,335.06 L138.14,335.46 L139.49,335.87 L140.83,336.29 L142.17,336.71 L143.51,337.15 L144.86,337.60 L146.20,338.06 M148.00,338.70 L149.34,339.20 L150.69,339.71 L152.03,340.24 L153.37,340.79 L154.71,341.35 L156.06,341.92 L157.40,342.50 M159.20,343.30 L160.54,343.91 L161.89,344.53 L163.23,345.16 L164.57,345.80 L165.91,346.44 L167.26,347.09 L168.60,347.75 M170.40,348.64 L171.74,349.32 L173.09,349.99 L174.43,350.67 L175.77,351.36 L177.11,352.06 L178.46,352.77 L179.80,353.49 M181.60,354.46 L182.94,355.20 L184.29,355.94 L185.63,356.68 L186.97,357.44 L188.31,358.19 L189.66,358.95 L191.00,359.72 M192.80,360.74 L194.14,361.51 L195.49,362.29 L196.83,363.06 L198.17,363.83 L199.51,364.61 L200.86,365.39 L202.20,366.18 M204.00,367.24 L205.34,368.03 L206.69,368.83 L208.03,369.63 L209.37,370.44 L210.71,371.25 L212.06,372.06 L213.40,372.88 M215.20,373.98 L216.54,374.81 L217.89,375.64 L219.23,376.47 L220.57,377.31 L221.91,378.15 L223.26,379.00 L224.60,379.86 M226.40,381.03 L227.74,381.90 L229.09,382.78 L230.43,383.66 L231.77,384.54 L233.11,385.42 L234.46,386.31 L235.80,387.19 M237.60,388.38 L238.94,389.26 L240.29,390.13 L241.63,391.00 L242.97,391.87 L244.31,392.73 L245.66,393.59 L247.00,394.44 M248.80,395.59 L250.14,396.44 L251.49,397.29 L252.83,398.14 L254.17,398.99 L255.51,399.84 L256.86,400.69 L258.20,401.53 M260.00,402.66 L261.34,403.50 L262.69,404.34 L264.03,405.17 L265.37,406.01 L266.71,406.84 L268.06,407.67 L269.40,408.49 M271.20,409.58 L272.54,410.39 L273.89,411.19 L275.23,411.99 L276.57,412.79 L277.91,413.58 L279.26,414.38 L280.60,415.17 M282.40,416.23 L282.59,416.34 L282.77,416.45 L282.96,416.56 L283.14,416.67 L283.33,416.78 L283.51,416.89 L283.70,417.00" fill="none" stroke="#fb5047" stroke-width="2.2"/>
<ellipse cx="149.45" cy="258.40" rx="6.4" ry="6.62" fill="#fa594f" stroke="#1c1010" stroke-width="0.85"/>
<ellipse cx="82.15" cy="307.70" rx="6.4" ry="6.62" fill="#fa594f" stroke="#1c1010" stroke-width="0.85"/>
<ellipse cx="84.35" cy="300.10" rx="6.4" ry="6.62" fill="#fa594f" stroke="#1c1010" stroke-width="0.85"/>
<ellipse cx="86.15" cy="314.80" rx="6.4" ry="6.62" fill="#fa594f" stroke="#1c1010" stroke-width="0.85"/>
<ellipse cx="147.95" cy="299.40" rx="6.4" ry="6.62" fill="#fa594f" stroke="#1c1010" stroke-width="0.85"/>
<ellipse cx="160.15" cy="302.60" rx="6.4" ry="6.62" fill="#fa594f" stroke="#1c1010" stroke-width="0.85"/>
<ellipse cx="160.15" cy="304.90" rx="6.4" ry="6.62" fill="#fa594f" stroke="#1c1010" stroke-width="0.85"/>
<ellipse cx="169.15" cy="313.00" rx="6.4" ry="6.62" fill="#fa594f" stroke="#1c1010" stroke-width="0.85"/>
<ellipse cx="159.55" cy="334.90" rx="6.4" ry="6.62" fill="#fa594f" stroke="#1c1010" stroke-width="0.85"/>
<ellipse cx="167.75" cy="339.10" rx="6.4" ry="6.62" fill="#fa594f" stroke="#1c1010" stroke-width="0.85"/>
<ellipse cx="161.45" cy="358.30" rx="6.4" ry="6.62" fill="#fa594f" stroke="#1c1010" stroke-width="0.85"/>
<ellipse cx="199.75" cy="349.50" rx="6.4" ry="6.62" fill="#fa594f" stroke="#1c1010" stroke-width="0.85"/>
<ellipse cx="182.55" cy="376.90" rx="6.4" ry="6.62" fill="#fa594f" stroke="#1c1010" stroke-width="0.85"/>
<ellipse cx="244.85" cy="376.30" rx="6.4" ry="6.62" fill="#fa594f" stroke="#1c1010" stroke-width="0.85"/>
<ellipse cx="242.15" cy="377.90" rx="6.4" ry="6.62" fill="#fa594f" stroke="#1c1010" stroke-width="0.85"/>
<ellipse cx="251.35" cy="384.70" rx="6.4" ry="6.62" fill="#fa594f" stroke="#1c1010" stroke-width="0.85"/>
<ellipse cx="277.55" cy="338.90" rx="6.4" ry="6.62" fill="#fa594f" stroke="#1c1010" stroke-width="0.85"/>
<text x="48.40" y="246.90" font-size="9.5" letter-spacing="0.2" text-anchor="start" fill="#151515" stroke="#151515" stroke-width="0.08" >c</text>
<text x="56.20" y="277.10" font-size="9.5" letter-spacing="0.2" text-anchor="start" fill="#3a3a3a" stroke="#3a3a3a" stroke-width="0.08" >EM1</text>
<text x="287.50" y="394.00" font-size="9.5" letter-spacing="0.7" text-anchor="start" fill="#3a3a3a" stroke="#3a3a3a" stroke-width="0.08" >LM</text>
<text x="76.60" y="406.60" font-size="9.5" letter-spacing="0.2" text-anchor="start" fill="#3a3a3a" stroke="#3a3a3a" stroke-width="0.08" >R<tspan font-size="4.5" dy="-3.6">2</tspan><tspan dy="3.6" font-size="4.5">&#8203;</tspan> = 0.43, p &lt; 0.01</text>
<text x="180.4" y="456.4" font-size="10.4" text-anchor="middle" fill="#2a2a2a"><tspan font-size="5.2" letter-spacing="0.35" dy="-4.8">208</tspan><tspan dy="4.8" letter-spacing="0.05">Pb/</tspan><tspan font-size="5.2" letter-spacing="0.35" dy="-4.8">204</tspan><tspan dy="4.8" letter-spacing="0.05">Pb</tspan></text>
<line x1="391.3" y1="231.0" x2="677.7" y2="231.0" stroke="#222" stroke-width="1.5"/>
<line x1="677.0" y1="231.0" x2="677.0" y2="424.42499999999995" stroke="#111" stroke-width="1.4"/>
<line x1="391.3" y1="230.25" x2="391.3" y2="424.42499999999995" stroke="#111" stroke-width="1.4"/>
<line x1="391.3" y1="423.65" x2="677.7" y2="423.65" stroke="#111" stroke-width="1.55"/>
<line x1="391.30" y1="420.04999999999995" x2="391.30" y2="427.15" stroke="#111" stroke-width="1.2"/>
<line x1="448.44" y1="420.04999999999995" x2="448.44" y2="427.15" stroke="#111" stroke-width="1.2"/>
<line x1="505.58" y1="420.04999999999995" x2="505.58" y2="427.15" stroke="#111" stroke-width="1.2"/>
<line x1="562.72" y1="420.04999999999995" x2="562.72" y2="427.15" stroke="#111" stroke-width="1.2"/>
<line x1="619.86" y1="420.04999999999995" x2="619.86" y2="427.15" stroke="#111" stroke-width="1.2"/>
<line x1="677.00" y1="420.04999999999995" x2="677.00" y2="427.15" stroke="#111" stroke-width="1.2"/>
<line x1="419.87" y1="420.65" x2="419.87" y2="423.65" stroke="#111" stroke-width="1"/>
<line x1="477.01" y1="420.65" x2="477.01" y2="423.65" stroke="#111" stroke-width="1"/>
<line x1="534.15" y1="420.65" x2="534.15" y2="423.65" stroke="#111" stroke-width="1"/>
<line x1="591.29" y1="420.65" x2="591.29" y2="423.65" stroke="#111" stroke-width="1"/>
<line x1="648.43" y1="420.65" x2="648.43" y2="423.65" stroke="#111" stroke-width="1"/>
<line x1="387.7" y1="231.00" x2="394.90000000000003" y2="231.00" stroke="#111" stroke-width="1.2"/>
<line x1="387.7" y1="279.16" x2="394.90000000000003" y2="279.16" stroke="#111" stroke-width="1.2"/>
<line x1="387.7" y1="327.32" x2="394.90000000000003" y2="327.32" stroke="#111" stroke-width="1.2"/>
<line x1="387.7" y1="375.48" x2="394.90000000000003" y2="375.48" stroke="#111" stroke-width="1.2"/>
<line x1="387.7" y1="423.64" x2="394.90000000000003" y2="423.64" stroke="#111" stroke-width="1.2"/>
<line x1="391.3" y1="255.08" x2="394.1" y2="255.08" stroke="#111" stroke-width="1"/>
<line x1="391.3" y1="303.24" x2="394.1" y2="303.24" stroke="#111" stroke-width="1"/>
<line x1="391.3" y1="351.40" x2="394.1" y2="351.40" stroke="#111" stroke-width="1"/>
<line x1="391.3" y1="399.56" x2="394.1" y2="399.56" stroke="#111" stroke-width="1"/>
<text x="390.20" y="441.90" font-size="9.5" letter-spacing="0" text-anchor="middle" fill="#1c1c1c" stroke="#1c1c1c" stroke-width="0.15" >0.00</text>
<text x="447.34" y="441.90" font-size="9.5" letter-spacing="0" text-anchor="middle" fill="#1c1c1c" stroke="#1c1c1c" stroke-width="0.15" >0.05</text>
<text x="504.48" y="441.90" font-size="9.5" letter-spacing="0" text-anchor="middle" fill="#1c1c1c" stroke="#1c1c1c" stroke-width="0.15" >0.10</text>
<text x="561.62" y="441.90" font-size="9.5" letter-spacing="0" text-anchor="middle" fill="#1c1c1c" stroke="#1c1c1c" stroke-width="0.15" >0.15</text>
<text x="618.76" y="441.90" font-size="9.5" letter-spacing="0" text-anchor="middle" fill="#1c1c1c" stroke="#1c1c1c" stroke-width="0.15" >0.20</text>
<text x="675.90" y="441.90" font-size="9.5" letter-spacing="0" text-anchor="middle" fill="#1c1c1c" stroke="#1c1c1c" stroke-width="0.15" >0.25</text>
<text x="379.80" y="235.00" font-size="9.5" letter-spacing="0" text-anchor="end" fill="#1c1c1c" stroke="#1c1c1c" stroke-width="0.15" >2</text>
<text x="379.80" y="283.16" font-size="9.5" letter-spacing="0" text-anchor="end" fill="#1c1c1c" stroke="#1c1c1c" stroke-width="0.15" >1</text>
<text x="379.80" y="331.32" font-size="9.5" letter-spacing="0" text-anchor="end" fill="#1c1c1c" stroke="#1c1c1c" stroke-width="0.15" >0</text>
<text x="379.80" y="379.48" font-size="9.5" letter-spacing="0" text-anchor="end" fill="#1c1c1c" stroke="#1c1c1c" stroke-width="0.15" >-1</text>
<text x="379.80" y="427.64" font-size="9.5" letter-spacing="0" text-anchor="end" fill="#1c1c1c" stroke="#1c1c1c" stroke-width="0.15" >-2</text>
<text transform="translate(362,329) rotate(-90)" font-size="9.5" text-anchor="middle" fill="#222" stroke="#222" stroke-width="0.1"><tspan letter-spacing="0.15">δ</tspan><tspan font-size="3.9" letter-spacing="0.15" dy="-4.2">202</tspan><tspan dy="4.2" letter-spacing="0.15">Hg (‰)</tspan></text>
<path d="M428.50,294.78 C431.00,296.89 438.50,303.41 443.49,307.44 C448.49,311.47 453.49,315.31 458.49,318.95 C463.48,322.60 468.48,326.05 473.48,329.31 C478.48,332.58 483.47,335.65 488.47,338.53 C493.47,341.41 498.47,344.10 503.46,346.60 C508.46,349.10 513.46,351.41 518.46,353.52 C523.45,355.64 528.45,357.56 533.45,359.30 C538.45,361.03 543.45,362.57 548.44,363.93 C553.44,365.28 558.44,366.44 563.44,367.41 C568.43,368.38 573.43,369.16 578.43,369.74 C583.43,370.33 588.42,370.73 593.42,370.93 C598.42,371.14 603.42,371.15 608.41,370.97 C613.41,370.79 618.41,370.43 623.41,369.87 C628.40,369.31 635.90,367.99 638.40,367.61" fill="none" stroke="#fb5047" stroke-width="1.85"/>
<ellipse cx="482.50" cy="277.20" rx="6.4" ry="6.62" fill="#fa594f" stroke="#1c1010" stroke-width="0.85"/>
<ellipse cx="450.60" cy="320.40" rx="6.4" ry="6.62" fill="#fa594f" stroke="#1c1010" stroke-width="0.85"/>
<ellipse cx="440.80" cy="314.00" rx="6.4" ry="6.62" fill="#fa594f" stroke="#1c1010" stroke-width="0.85"/>
<ellipse cx="448.40" cy="326.70" rx="6.4" ry="6.62" fill="#fa594f" stroke="#1c1010" stroke-width="0.85"/>
<ellipse cx="491.30" cy="313.00" rx="6.4" ry="6.62" fill="#fa594f" stroke="#1c1010" stroke-width="0.85"/>
<ellipse cx="492.50" cy="315.80" rx="6.4" ry="6.62" fill="#fa594f" stroke="#1c1010" stroke-width="0.85"/>
<ellipse cx="505.30" cy="324.90" rx="6.4" ry="6.62" fill="#fa594f" stroke="#1c1010" stroke-width="0.85"/>
<ellipse cx="502.50" cy="318.20" rx="6.4" ry="6.62" fill="#fa594f" stroke="#1c1010" stroke-width="0.85"/>
<ellipse cx="497.70" cy="345.10" rx="6.4" ry="6.62" fill="#fa594f" stroke="#1c1010" stroke-width="0.85"/>
<ellipse cx="497.60" cy="348.30" rx="6.4" ry="6.62" fill="#fa594f" stroke="#1c1010" stroke-width="0.85"/>
<ellipse cx="488.50" cy="347.40" rx="6.4" ry="6.62" fill="#fa594f" stroke="#1c1010" stroke-width="0.85"/>
<ellipse cx="497.30" cy="365.50" rx="6.4" ry="6.62" fill="#fa594f" stroke="#1c1010" stroke-width="0.85"/>
<ellipse cx="522.30" cy="357.50" rx="6.4" ry="6.62" fill="#fa594f" stroke="#1c1010" stroke-width="0.85"/>
<ellipse cx="506.30" cy="376.90" rx="6.4" ry="6.62" fill="#fa594f" stroke="#1c1010" stroke-width="0.85"/>
<ellipse cx="510.50" cy="378.10" rx="6.4" ry="6.62" fill="#fa594f" stroke="#1c1010" stroke-width="0.85"/>
<ellipse cx="509.80" cy="381.50" rx="6.4" ry="6.62" fill="#fa594f" stroke="#1c1010" stroke-width="0.85"/>
<ellipse cx="529.70" cy="374.90" rx="6.4" ry="6.62" fill="#fa594f" stroke="#1c1010" stroke-width="0.85"/>
<ellipse cx="551.00" cy="342.00" rx="6.4" ry="6.62" fill="#fa594f" stroke="#1c1010" stroke-width="0.85"/>
<ellipse cx="545.20" cy="347.50" rx="6.4" ry="6.62" fill="#fa594f" stroke="#1c1010" stroke-width="0.85"/>
<ellipse cx="567.70" cy="388.40" rx="6.4" ry="6.62" fill="#fa594f" stroke="#1c1010" stroke-width="0.85"/>
<ellipse cx="616.60" cy="381.20" rx="6.4" ry="6.62" fill="#fa594f" stroke="#1c1010" stroke-width="0.85"/>
<ellipse cx="611.30" cy="382.10" rx="6.4" ry="6.62" fill="#fa594f" stroke="#1c1010" stroke-width="0.85"/>
<ellipse cx="638.60" cy="348.30" rx="6.4" ry="6.62" fill="#fa594f" stroke="#1c1010" stroke-width="0.85"/>
<text x="401.70" y="246.90" font-size="9.5" letter-spacing="0.2" text-anchor="start" fill="#151515" stroke="#151515" stroke-width="0.08" >d</text>
<text x="416.20" y="285.50" font-size="9.5" letter-spacing="0.2" text-anchor="start" fill="#3a3a3a" stroke="#3a3a3a" stroke-width="0.08" >EM1</text>
<text x="641.20" y="385.60" font-size="9.5" letter-spacing="0.7" text-anchor="start" fill="#3a3a3a" stroke="#3a3a3a" stroke-width="0.08" >LM</text>
<text x="416.90" y="407.70" font-size="9.5" letter-spacing="0.2" text-anchor="start" fill="#3a3a3a" stroke="#3a3a3a" stroke-width="0.08" >R<tspan font-size="4.5" dy="-3.6">2</tspan><tspan dy="3.6" font-size="4.5">&#8203;</tspan> = 0.39</text>
<text x="534.2" y="455.2" font-size="9.5" text-anchor="middle" fill="#2a2a2a"><tspan letter-spacing="0.3">U/Pb</tspan></text>
</g>
</svg>
</body></html>
